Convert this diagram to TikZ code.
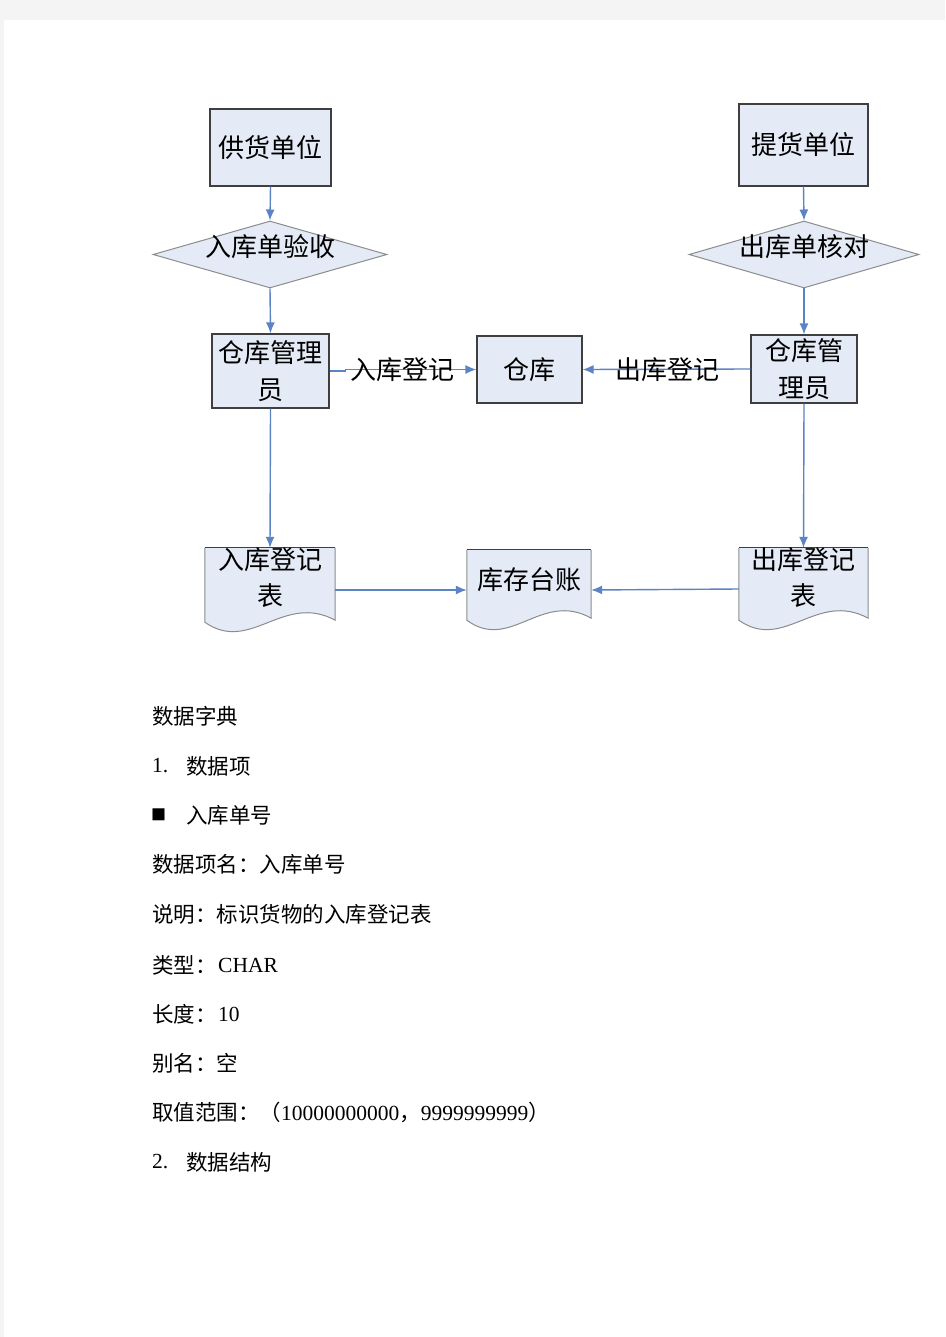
\documentclass[tikz,border=0pt]{standalone}
\usepackage{fontspec}
\setmainfont{Liberation Serif}
\newfontfamily\cjk{Noto Sans CJK SC}
\usetikzlibrary{shapes.geometric,arrows.meta,calc}
\definecolor{pagegray}{HTML}{F4F4F4}
\definecolor{boxfill}{HTML}{E4EBF6}
\definecolor{arrowblue}{HTML}{5B83C6}
\definecolor{boxline}{HTML}{3F3F3F}
\definecolor{dialine}{HTML}{8C8C8C}
\newcommand{\docshape}[1]{%
  \fill[boxfill] let \p1=(#1.north west), \p2=(#1.south east), \n1={\x2-\x1} in
    (\x1,\y1) -- (\x2,\y1) -- (\x2,\y2+12pt)
    .. controls (\x1+0.6*\n1,\y2+40pt) and (\x1+0.35*\n1,\y2-22pt) .. (\x1,\y2+10pt) -- cycle;
  \draw[dialine,line width=1pt] let \p1=(#1.north west), \p2=(#1.south east), \n1={\x2-\x1} in
    (\x2,\y1) -- (\x2,\y2+12pt)
    .. controls (\x1+0.6*\n1,\y2+40pt) and (\x1+0.35*\n1,\y2-22pt) .. (\x1,\y2+10pt) -- (\x1,\y1);
  \draw[boxline,line width=1.1pt] (#1.north west) -- (#1.north east);
}
\begin{document}
\begin{tikzpicture}[x=1pt,y=-1pt,
  box/.style={draw=boxline, line width=1.2pt, fill=boxfill, inner sep=0pt, align=center,
              font=\cjk\fontsize{26}{37}\selectfont},
  dia/.style={diamond, draw=dialine, line width=1pt, fill=boxfill, inner sep=0pt},
  docarea/.style={draw=none, inner sep=0pt},
  lbl/.style={font=\cjk\fontsize{26}{36}\selectfont, align=center, inner sep=0pt},
  flow/.style={draw=arrowblue, line width=1.4pt, -{Latex[length=11pt,width=9pt]}},
  body/.style={anchor=west, inner sep=0pt, font=\fontsize{21.5}{25}\selectfont},
  bodyc/.style={anchor=west, inner sep=0pt, font=\cjk\fontsize{21.5}{25}\selectfont},
]
\useasboundingbox (0,0) rectangle (945,1337);
\fill[pagegray] (0,0) rectangle (945,1337);
\fill[white] (4,20) rectangle (945,1337);

% top boxes
\node[box, minimum width=121, minimum height=77] (s1) at (270.5,147.5) {供货单位};
\node[box, minimum width=129, minimum height=82] (s2) at (803.5,145) {提货单位};

% diamonds
\node[dia, minimum width=234, minimum height=67] (d1) at (270,254.5) {};
\node[lbl] (d1t) at (270,247) {入库单验收};
\node[dia, minimum width=230, minimum height=67] (d2) at (804,254.5) {};
\node[lbl] (d2t) at (804,247) {出库单核对};

% managers and warehouse
\node[box, minimum width=117, minimum height=74] (m1) at (270.5,371) {仓库管理\\员};
\node[box, minimum width=106, minimum height=68] (m2) at (804,369) {仓库管\\理员};
\node[box, minimum width=105, minimum height=67] (wh) at (529.5,369.5) {仓库};

% documents
\node[docarea, minimum width=130, minimum height=84] (doc1) at (270,590) {};
\node[docarea, minimum width=124, minimum height=80] (doc2) at (529,590) {};
\node[docarea, minimum width=129, minimum height=82] (doc3) at (803.5,589) {};
\docshape{doc1}
\docshape{doc2}
\docshape{doc3}
\node[lbl] (doc1t) at (270,578) {入库登记\\表};
\node[lbl] (doc2t) at (529,580) {库存台账};
\node[lbl] (doc3t) at (803.5,578) {出库登记\\表};

% connectors
\draw[flow] (s1.south) -- (d1.north);
\draw[flow] (d1.south) -- (m1.north);
\draw[flow] (s2.south) -- (d2.north);
\draw[flow] (d2.south) -- (m2.north);
\draw[flow] (m1.east) -- ++(16,0) |- (wh.west);
\draw[flow] (m2.west) -- (wh.east);
\draw[flow] (m1.south) -- (doc1.north);
\draw[flow] (m2.south) -- (doc3.north);
\draw[flow] (doc1.east) -- (doc2.west);
\draw[flow] (doc3.west) -- (doc2.east);
\node[lbl] (inl) at (402,370) {入库登记};
\node[lbl] (outl) at (667,370) {出库登记};

% data dictionary text
\node[bodyc] (t1) at (152,716) {数据字典};
\node[body] (t2a) at (152,766) {1.};
\node[bodyc] (t2b) at (186,766) {数据项};
\node[bodyc, font=\cjk\fontsize{15}{18}\selectfont] (t3a) at (151,815) {■};
\node[bodyc] (t3b) at (186,815) {入库单号};
\node[bodyc] (t4) at (152,864) {数据项名：入库单号};
\node[bodyc] (t5) at (152,914) {说明：标识货物的入库登记表};
\node[bodyc] (t6a) at (152,965) {类型：};
\node[body] (t6b) at (218,965) {CHAR};
\node[bodyc] (t7a) at (152,1014) {长度：};
\node[body] (t7b) at (218,1014) {10};
\node[bodyc] (t8) at (152,1063) {别名：空};
\node[body] (t9) at (152,1112) {{\cjk 取值范围：（}10000000000{\cjk ，}9999999999{\cjk ）}};
\node[body] (t10a) at (152,1162) {2.};
\node[bodyc] (t10b) at (186,1162) {数据结构};
\end{tikzpicture}
\end{document}
